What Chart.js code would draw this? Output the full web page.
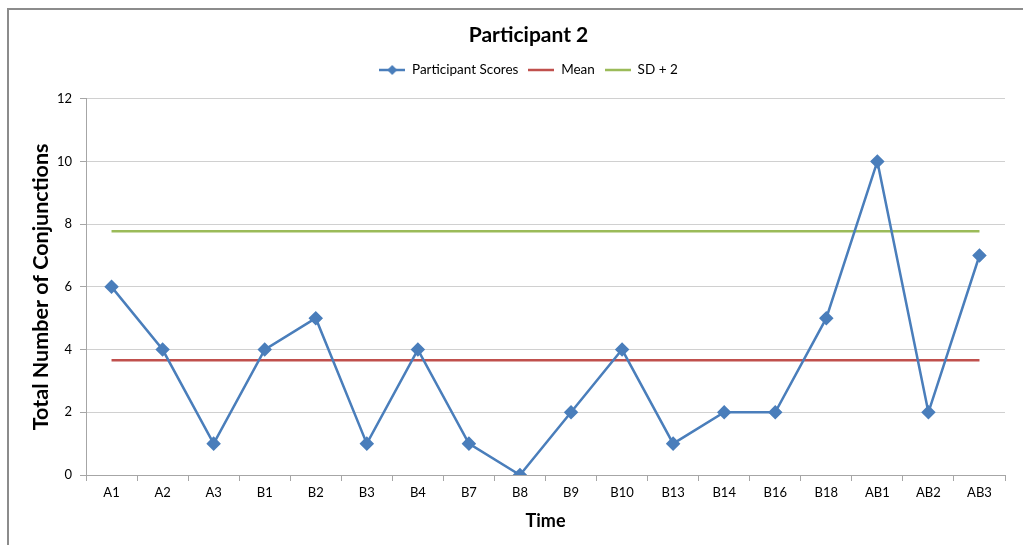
<!DOCTYPE html>
<html>
<head>
<meta charset="utf-8">
<script src="https://cdn.jsdelivr.net/npm/chart.js@4"></script>
<style>
  html, body { margin: 0; padding: 0; background: #fff; }
  #wrap { position: relative; width: 1023px; height: 545px; overflow: hidden; }
  #frame { position: absolute; left: 7px; top: 8px; right: -10px; bottom: -10px;
           border-top: 2px solid #8c8c8c; border-left: 2px solid #8c8c8c; }
  #c { position: absolute; left: 0; top: 0; }
</style>
</head>
<body>
<div id="wrap">
  <div id="frame"></div>
  <canvas id="c" width="1023" height="545"></canvas>
</div>
<script>
const categories = ["A1","A2","A3","B1","B2","B3","B4","B7","B8","B9","B10","B13","B14","B16","B18","AB1","AB2","AB3"];
const participantScores = [6,4,1,4,5,1,4,1,0,2,4,1,2,2,5,10,2,7];
const meanValue = 3.66;
const sdPlus2Value = 7.77;
const yTicks = [0,2,4,6,8,10,12];

const meanSeries = categories.map(() => meanValue);
const sdSeries = categories.map(() => sdPlus2Value);

const BLUE = '#4A7EBB', RED = '#C0504D', GREEN = '#9BBB59';
const FONT = 'Lato, "Open Sans", "DejaVu Sans", sans-serif';
const LEFT_PAD = 52;

function legendIcon(color, diamond) {
  const cv = document.createElement('canvas');
  cv.width = 26; cv.height = 12;
  const g = cv.getContext('2d');
  g.strokeStyle = color; g.lineWidth = 2.5;
  g.beginPath(); g.moveTo(0, 6); g.lineTo(26, 6); g.stroke();
  if (diamond) {
    g.fillStyle = color;
    g.beginPath(); g.moveTo(13, 1); g.lineTo(18, 6); g.lineTo(13, 11); g.lineTo(8, 6); g.closePath(); g.fill();
  }
  return cv;
}

new Chart(document.getElementById('c'), {
  type: 'line',
  data: {
    labels: categories,
    datasets: [
      { label: 'Participant Scores', data: participantScores, borderColor: BLUE, backgroundColor: BLUE,
        borderWidth: 2.5, pointStyle: 'rectRot', pointRadius: 5.5, pointHoverRadius: 5.5, tension: 0 },
      { label: 'Mean', data: meanSeries, borderColor: RED, backgroundColor: RED,
        borderWidth: 2.5, pointRadius: 0, tension: 0 },
      { label: 'SD + 2', data: sdSeries, borderColor: GREEN, backgroundColor: GREEN,
        borderWidth: 2.5, pointRadius: 0, tension: 0 }
    ]
  },
  options: {
    responsive: false,
    animation: false,
    layout: { padding: { left: LEFT_PAD, right: 18, top: 0, bottom: 0 } },
    plugins: {
      title: { display: true, text: 'Participant 2', color: '#000',
               font: { family: FONT, size: 21, weight: 'bold', lineHeight: 1.2 }, padding: { top: 23, bottom: 5 } },
      subtitle: { display: true, text: ' ', weight: 500, font: { size: 2, lineHeight: 1 }, padding: { top: 10, bottom: 0 } },
      legend: {
        display: true, position: 'top',
        labels: {
          color: '#000', font: { family: FONT, size: 13.5 }, padding: 10,
          usePointStyle: true, pointStyleWidth: 26, boxHeight: 12,
          generateLabels: (chart) => chart.data.datasets.map((ds, i) => ({
            text: ds.label, pointStyle: legendIcon(ds.borderColor, i === 0),
            fillStyle: ds.borderColor, strokeStyle: ds.borderColor, lineWidth: 0,
            hidden: false, datasetIndex: i
          }))
        }
      },
      tooltip: { enabled: false }
    },
    scales: {
      x: {
        offset: true,
        grid: { display: true, offset: true, drawOnChartArea: false, drawTicks: true, tickLength: 6, color: '#a6a6a6' },
        border: { display: true, color: '#a6a6a6', width: 1 },
        ticks: { color: '#000', font: { family: FONT, size: 13 }, padding: 4, maxRotation: 0, autoSkip: false },
        title: { display: true, text: 'Time', color: '#000', font: { family: FONT, size: 18, weight: 'bold', lineHeight: 1.2 }, padding: { top: 0, bottom: 13 } },
        afterFit: (s) => { s.height = 70; }
      },
      y: {
        min: 0, max: 12,
        afterBuildTicks: (s) => { s.ticks = yTicks.map(v => ({ value: v })); },
        grid: { color: '#d0d0d0', lineWidth: 1, drawTicks: true, tickLength: 6, tickColor: '#a6a6a6' },
        border: { display: true, color: '#a6a6a6', width: 1 },
        ticks: { color: '#000', font: { family: FONT, size: 13 }, padding: 8 },
        title: { display: true, text: 'Total Number of Conjunctions', color: '#000', font: { family: FONT, size: 21.5, weight: 'bold', lineHeight: 1.2 }, padding: { top: 28 - LEFT_PAD, bottom: 0 } },
        afterFit: (s) => { s.width = 86 - LEFT_PAD; }
      }
    }
  }
});
</script>
</body>
</html>
